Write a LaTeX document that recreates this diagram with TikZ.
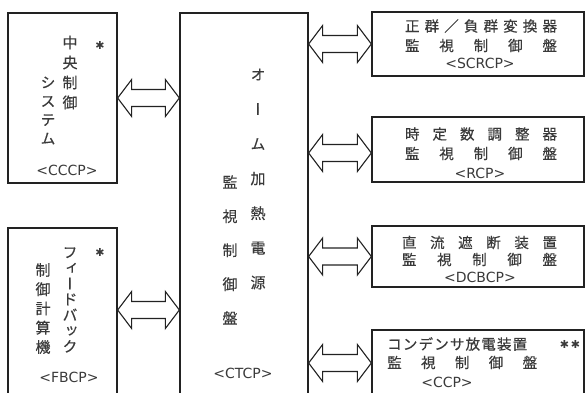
\documentclass[tikz,border=0pt]{standalone}
\usepackage{fontspec}
\usepackage{graphicx}
\setmainfont{Noto Sans CJK JP}[FakeBold=0.4]
\newfontfamily\vjp{Noto Sans CJK JP}[RawFeature=+vert,FakeBold=0.4]
\newfontfamily\latn{DejaVu Sans}
\usetikzlibrary{calc}
\definecolor{ink}{HTML}{222222}
\definecolor{txt}{HTML}{3A3A3A}
\tikzset{
 box/.style={draw=ink, line width=1.3pt, rectangle, inner sep=0pt},
 lbl/.style={text=txt, inner sep=0pt, font=\fontsize{14.5}{16}\selectfont},
 lat/.style={text=txt, inner sep=0pt, font=\latn\fontsize{14}{16}\selectfont},
 astx/.style={text=txt, inner sep=0pt, font=\latn\fontsize{11}{12}\selectfont},
 vcol/.style={text=txt, inner sep=0pt, align=center, font=\vjp\fontsize{15}{#1}\selectfont},
 dbl/.style={draw=ink, line width=1.1pt, fill=white, line join=miter,
   to path={let \p1=(\tikztostart), \p2=(\tikztotarget) in
     (\x1,\y1) -- (\x1+14pt,\y1+18.5pt) -- (\x1+14pt,\y1+8.5pt) -- (\x2-14pt,\y1+8.5pt)
     -- (\x2-14pt,\y1+18.5pt) -- (\x2,\y1) -- (\x2-14pt,\y1-18.5pt) -- (\x2-14pt,\y1-8.5pt)
     -- (\x1+14pt,\y1-8.5pt) -- (\x1+14pt,\y1-18.5pt) -- cycle}}
}
\begin{document}
\begin{tikzpicture}[x=1pt,y=-1pt]
\useasboundingbox[fill=white] (0,0) rectangle (586,392);
\clip (0,0) rectangle (586,392);
% boxes
\node[box, minimum width=109pt, minimum height=170pt] (cccp) at (62.5,98) {};
\node[box, minimum width=109pt, minimum height=172pt] (fbcp) at (62.5,314) {};
\node[box, minimum width=128pt, minimum height=387pt] (ctcp) at (244,206.5) {};
\node[box, minimum width=212pt, minimum height=64pt] (scrcp) at (478,44) {};
\node[box, minimum width=212pt, minimum height=65pt] (rcp) at (478,149.5) {};
\node[box, minimum width=212pt, minimum height=61pt] (dcbcp) at (478,256.5) {};
\node[box, minimum width=212pt, minimum height=70pt] (ccp) at (478,365) {};
% arrow anchors
\coordinate (fb) at ([yshift=4pt]fbcp.east);
\coordinate (rc) at ([yshift=-3.5pt]rcp.west);
\coordinate (cc) at ([yshift=2pt]ccp.west);
% connectors
\draw[dbl] (cccp.east) to (cccp.east -| ctcp.west);
\draw[dbl] (fb) to (fb -| ctcp.west);
\draw[dbl] (ctcp.east |- scrcp.west) to (scrcp.west);
\draw[dbl] (ctcp.east |- rc) to (rc);
\draw[dbl] (ctcp.east |- dcbcp.west) to (dcbcp.west);
\draw[dbl] (ctcp.east |- cc) to (cc);
% CCCP text
\node[vcol=20] (c1) at (70,72.5) {中\\央\\制\\御};
\node[vcol=18.7] (c2) at (48,110.5) {シ\\ス\\テ\\ム};
\node[astx] (cs) at (100,45) {✱};
\node[lat] (cl) at (67,170) {<CCCP>};
% FBCP text
\node[vcol=15.7] (f1t) at (70,300) {フ\\ィ\\ー\\ド\\バ\\ッ\\ク};
\node[vcol=19.25] (f2t) at (43,308.5) {制\\御\\計\\算\\機};
\node[astx] (fs) at (100,252) {✱};
\node[lat] (fl) at (69,377) {<FBCP>};
% CTCP text
\node[vcol=34.67] (o1) at (258,179) {オ\\ー\\ム\\加\\熱\\電\\源};
\node[vcol=34] (o2) at (230,250) {監\\視\\制\\御\\盤};
\node[lat] (ol) at (243,373) {<CTCP>};
% SCRCP
\node[lbl] (s1) at (481,26) {\makebox[152pt][s]{正\hfill 群\hfill ／\hfill 負\hfill 群\hfill 変\hfill 換\hfill 器}};
\node[lbl] (s2) at (481,45.5) {\makebox[152pt][s]{監\hfill 視\hfill 制\hfill 御\hfill 盤}};
\node[lat] (s3) at (480,63) {<SCRCP>};
% RCP
\node[lbl] (r1) at (481,134) {\makebox[152pt][s]{時\hfill 定\hfill 数\hfill 調\hfill 整\hfill 器}};
\node[lbl] (r2) at (481,153.5) {\makebox[152pt][s]{監\hfill 視\hfill 制\hfill 御\hfill 盤}};
\node[lat] (r3) at (480,173) {<RCP>};
% DCBCP
\node[lbl] (d1) at (479.5,242.5) {\makebox[155pt][s]{直\hfill 流\hfill 遮\hfill 断\hfill 装\hfill 置}};
\node[lbl] (d2) at (479.5,259.5) {\makebox[155pt][s]{監\hfill 視\hfill 制\hfill 御\hfill 盤}};
\node[lat] (d3) at (480,277) {<DCBCP>};
% CCP
\node[lbl, anchor=west] (p1) at (387,344) {\makebox[140pt][s]{コ\hfill ン\hfill デ\hfill ン\hfill サ\hfill 放\hfill 電\hfill 装\hfill 置}};
\node[astx] (ps) at (570,344) {✱\,✱};
\node[lbl, anchor=west] (p2) at (387,362.5) {\makebox[150pt][s]{監\hfill 視\hfill 制\hfill 御\hfill 盤}};
\node[lat] (p3) at (447,382) {<CCP>};
\end{tikzpicture}
\end{document}
